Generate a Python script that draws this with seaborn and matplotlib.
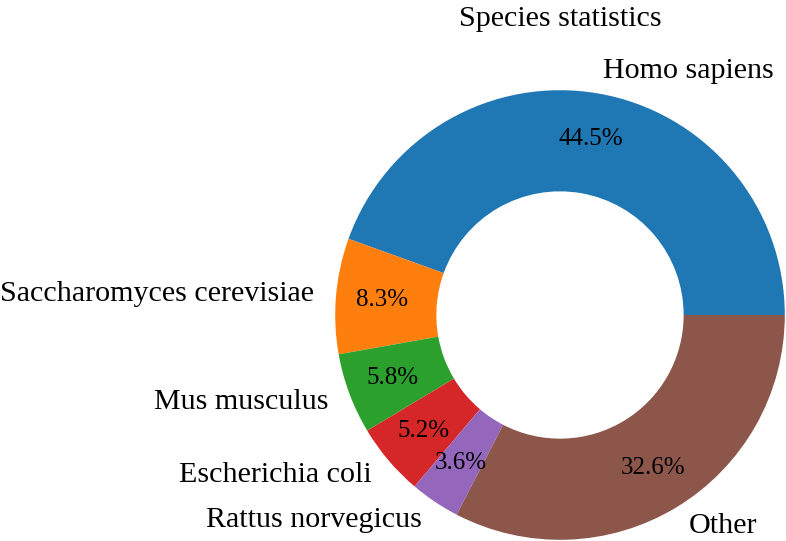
"""Donut chart of species statistics."""
import matplotlib
matplotlib.use("Agg")
import matplotlib.pyplot as plt
import seaborn as sns

species = ["Homo sapiens", "Saccharomyces cerevisiae", "Mus musculus",
           "Escherichia coli", "Rattus norvegicus", "Other"]
share = [44.5, 8.3, 5.8, 5.2, 3.6, 32.6]

sns.set_style("white")
plt.rcParams["font.family"] = ["Liberation Serif", "DejaVu Serif"]
plt.rcParams["text.color"] = "black"

colors = sns.color_palette("tab10", len(species))

fig = plt.figure(figsize=(7.86, 5.41), dpi=100)
# pie radius ~225 px, centre ~(560, 315) px; axes spans +-1.25 radius like default pie
ax = fig.add_axes([279 / 786, -55 / 541, 562 / 786, 562 / 541])
wedges, texts, autotexts = ax.pie(
    share, labels=species, colors=colors, autopct="%1.1f%%",
    startangle=0, pctdistance=0.795, labeldistance=1.1,
    wedgeprops=dict(width=0.45, edgecolor="none", linewidth=0),
    textprops=dict(fontsize=21.6, color="black"),
)
for t in autotexts:
    t.set_fontsize(18)
ax.set_xlim(-1.25, 1.25)
ax.set_ylim(-1.25, 1.25)
ax.set_aspect("equal")
ax.set_title("Species statistics", fontsize=21.6, pad=6, color="black")

fig.savefig("out.png", dpi=100)
